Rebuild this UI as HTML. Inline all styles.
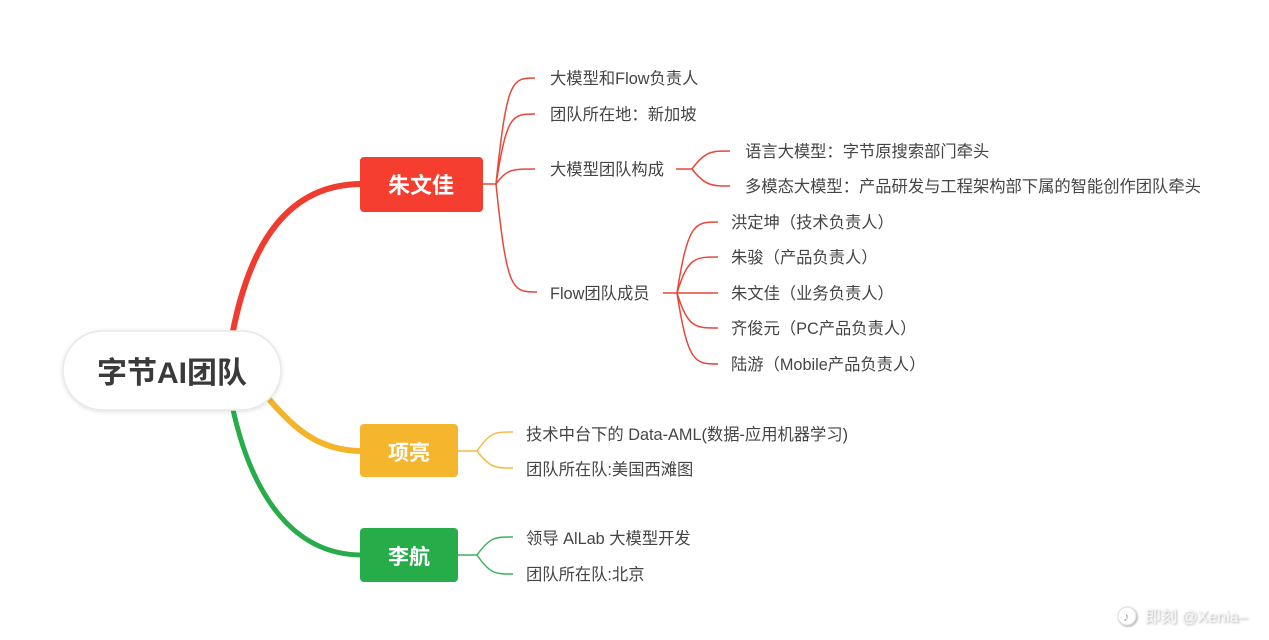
<!DOCTYPE html>
<html><head><meta charset="utf-8">
<style>
html,body{margin:0;padding:0;background:#fff;}
svg{display:block;}
text{font-family:"Liberation Sans","Noto Sans CJK SC",sans-serif;}
</style></head>
<body>
<svg width="1269" height="640" viewBox="0 0 1269 640" xmlns="http://www.w3.org/2000/svg">
<defs>
<filter id="sh" x="-10%" y="-20%" width="120%" height="150%">
<feDropShadow dx="0" dy="1" stdDeviation="2" flood-color="#000" flood-opacity="0.12"/>
</filter>
<filter id="ws" x="-10%" y="-30%" width="120%" height="160%">
<feDropShadow dx="1" dy="1" stdDeviation="1" flood-color="#000" flood-opacity="0.35"/>
</filter>
</defs>
<rect width="1269" height="640" fill="#fff"/>

<path d="M232 336 C 250 240, 290 184, 362 184" fill="none" stroke="#f03c2e" stroke-width="6"/>
<path d="M268 398 C 295 430, 320 451, 362 451" fill="none" stroke="#f4b42a" stroke-width="6"/>
<path d="M232 405 C 250 490, 290 555, 362 555" fill="none" stroke="#26ad4a" stroke-width="5"/>

<rect x="63" y="331" width="218" height="79" rx="39.5" fill="#fff" stroke="#e8e8e8" stroke-width="1.5" filter="url(#sh)"/>
<text x="172" y="383" font-size="30" font-weight="600" fill="#3a3a3a" text-anchor="middle">字节AI团队</text>

<rect x="360" y="157" width="123" height="55" rx="4" fill="#f53d30"/>
<text x="421" y="193" font-size="22" font-weight="bold" fill="#fff" text-anchor="middle">朱文佳</text>
<rect x="360" y="424" width="98" height="53" rx="4" fill="#f5b52c"/>
<text x="409" y="460" font-size="21" font-weight="bold" fill="#fff" text-anchor="middle">项亮</text>
<rect x="360" y="528" width="98" height="54" rx="4" fill="#26ad4a"/>
<text x="409" y="564" font-size="21" font-weight="bold" fill="#fff" text-anchor="middle">李航</text>

<g fill="none" stroke="#e8473a" stroke-width="1.5">
<path d="M483 184 H496"/>
<path d="M496 184 C 507 78, 512 78, 535 78"/>
<path d="M496 184 C 507 114, 512 114, 535 114"/>
<path d="M496 184 C 507 169, 512 169, 535 169"/>
<path d="M496 184 C 507 292, 512 292, 537 292"/>
<path d="M676 169 H692"/>
<path d="M692 169 C 705 151, 712 151, 730 151"/>
<path d="M692 169 C 705 186, 712 186, 730 186"/>
<path d="M663 293 H677"/>
<path d="M677 293 C 688 222, 695 222, 718 222"/>
<path d="M677 293 C 688 257, 695 257, 718 257"/>
<path d="M677 293 H718"/>
<path d="M677 293 C 688 328, 695 328, 718 328"/>
<path d="M677 293 C 688 364, 695 364, 718 364"/>
</g>
<g fill="none" stroke="#f3bb45" stroke-width="1.5">
<path d="M458 451 H477"/>
<path d="M477 451 C 490 432, 495 432, 513 432"/>
<path d="M477 451 C 490 468, 495 468, 513 468"/>
</g>
<g fill="none" stroke="#3cb35b" stroke-width="1.5">
<path d="M458 555 H477"/>
<path d="M477 555 C 490 537, 495 537, 513 537"/>
<path d="M477 555 C 490 574, 495 574, 513 574"/>
</g>

<g font-size="16.3" fill="#444">
<text x="550" y="84">大模型和Flow负责人</text>
<text x="550" y="120">团队所在地：新加坡</text>
<text x="550" y="175">大模型团队构成</text>
<text x="550" y="299">Flow团队成员</text>
<text x="745" y="157">语言大模型：字节原搜索部门牵头</text>
<text x="745" y="192">多模态大模型：产品研发与工程架构部下属的智能创作团队牵头</text>
<text x="731" y="228">洪定坤（技术负责人）</text>
<text x="731" y="263">朱骏（产品负责人）</text>
<text x="731" y="299">朱文佳（业务负责人）</text>
<text x="731" y="334">齐俊元（PC产品负责人）</text>
<text x="731" y="370">陆游（Mobile产品负责人）</text>
<text x="526" y="440">技术中台下的 Data-AML(数据-应用机器学习)</text>
<text x="526" y="475">团队所在队:美国西滩图</text>
<text x="526" y="544">领导 AlLab 大模型开发</text>
<text x="526" y="580">团队所在队:北京</text>
</g>

<g filter="url(#ws)">
<circle cx="1127" cy="616" r="9" fill="#fff" stroke="#ddd" stroke-width="1"/>
<text x="1123" y="621" font-size="13" fill="#aaa">♪</text>
<text x="1145" y="622" font-size="16" fill="#f4f4f4">即刻 @Xenia–</text>
</g>
</svg>
</body></html>
